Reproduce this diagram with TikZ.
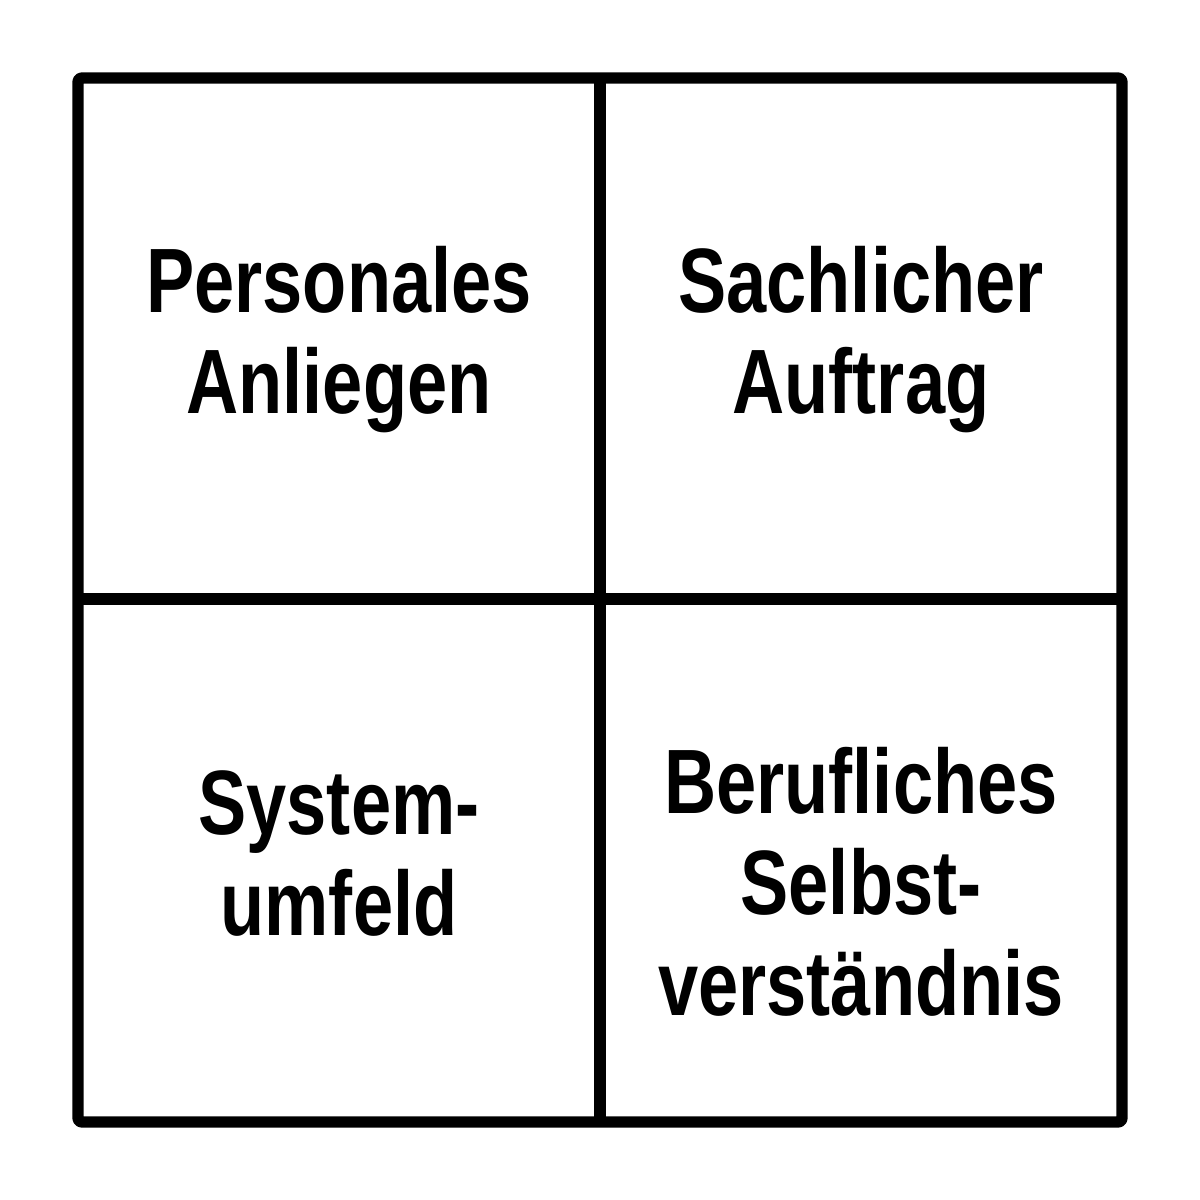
\documentclass[tikz,border=0pt]{standalone}
\usepackage{fontspec}
\newfontfamily\labfont{Liberation Sans}[FakeStretch=0.79]
\begin{document}
\begin{tikzpicture}[x=0.01cm,y=-0.01cm,
  grid/.style={line width=3.2pt,line join=round,line cap=butt},
  lbl/.style={font=\labfont\bfseries\fontsize{26pt}{28.7pt}\selectfont,align=center,anchor=base,inner sep=0pt}]
\useasboundingbox (0,0) rectangle (1200,1200);
\draw[grid,rounded corners=1pt] (78,78) rectangle (1122,1122);
\coordinate (t) at (600,78);
\coordinate (b) at (600,1122);
\coordinate (l) at (78,599);
\coordinate (r) at (1122,599);
\draw[grid,line width=3.5pt] (t) -- (b);
\draw[grid,line width=3.5pt] (l) -- (r);
\node[lbl] (pa) at (339,413) {Personales\\Anliegen};
\node[lbl] (sa) at (861,413) {Sachlicher\\Auftrag};
\node[lbl] (su) at (339,935) {System-\\umfeld};
\node[lbl] (bs) at (861,1015) {Berufliches\\Selbst-\\verständnis};
\end{tikzpicture}
\end{document}
